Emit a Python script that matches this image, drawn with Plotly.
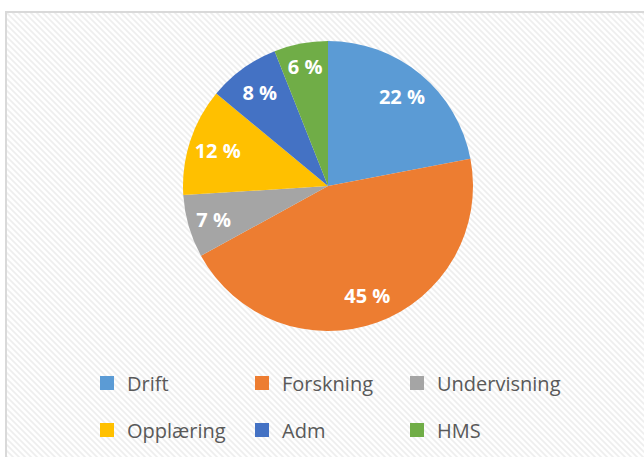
"""
Pie chart: fordeling av tid (Drift, Forskning, Undervisning, ...).
"""
import base64
import plotly.graph_objects as go

# data
labels = ['Drift', 'Forskning', 'Undervisning', 'Opplæring', 'Adm', 'HMS']
values = [22, 45, 7, 12, 8, 6]
colors = ['#5B9BD5', '#ED7D31', '#A5A5A5', '#FFC000', '#4472C4', '#70AD47']

W, H = 644, 457

# striped chart-area background with light frame (Excel style)
svg = f'''<svg xmlns="http://www.w3.org/2000/svg" width="{W}" height="{H}" viewBox="0 0 {W} {H}" preserveAspectRatio="none">
<defs><pattern id="p" width="6" height="6" patternUnits="userSpaceOnUse">
<rect width="6" height="6" fill="#ffffff"/>
<path d="M-1,-1 L7,7 M-4,2 L2,8 M4,-2 L8,2" stroke="#eeeeee" stroke-width="1.6"/>
</pattern></defs>
<rect x="6" y="12" width="{W}" height="{H}" fill="url(#p)" stroke="#d9d9d9" stroke-width="2"/>
</svg>'''
bg_src = 'data:image/svg+xml;base64,' + base64.b64encode(svg.encode()).decode()

pie_domain = dict(x=[(328 - 145) / W, (328 + 145) / W], y=[1 - 331 / H, 1 - 41 / H])

fig = go.Figure()

# the slices
fig.add_trace(go.Pie(
    labels=labels,
    values=values,
    sort=False,
    direction='clockwise',
    rotation=0,
    marker=dict(colors=colors, line=dict(width=0)),
    textinfo='none',
    domain=pie_domain,
    showlegend=False,
    hoverinfo='label+percent',
))

# same values again as a transparent ring, so the labels sit out towards the rim
fig.add_trace(go.Pie(
    labels=labels,
    values=values,
    sort=False,
    direction='clockwise',
    rotation=0,
    hole=0.6,
    marker=dict(colors=['rgba(0,0,0,0)'] * len(labels), line=dict(width=0)),
    texttemplate='%{value} %',
    textposition='inside',
    insidetextorientation='horizontal',
    textfont=dict(family='Open Sans', size=20, color='white', weight='bold'),
    domain=pie_domain,
    showlegend=False,
    hoverinfo='skip',
))

# legend: one small legend per entry, laid out 3 x 2 like the original
col_x = [87, 242, 397]
row_y = [383, 430]
legend_layout = {}
for i, (name, color) in enumerate(zip(labels, colors)):
    key = 'legend' if i == 0 else f'legend{i + 1}'
    fig.add_trace(go.Scatter(x=[None], y=[None], mode='markers', name=name,
                             marker=dict(symbol='square', size=14, color=color),
                             legend=key))
    legend_layout[key] = dict(
        x=col_x[i % 3] / W, y=1 - row_y[i // 3] / H,
        xanchor='left', yanchor='middle',
        font=dict(family='Open Sans', size=20, color='#595959'),
        bgcolor='rgba(0,0,0,0)',
        itemclick=False, itemdoubleclick=False,
    )

fig.update_layout(
    width=W, height=H,
    margin=dict(l=0, r=0, t=0, b=0, autoexpand=False),
    paper_bgcolor='white',
    plot_bgcolor='rgba(0,0,0,0)',
    xaxis=dict(visible=False),
    yaxis=dict(visible=False),
    images=[dict(source=bg_src, xref='paper', yref='paper', x=0, y=1,
                 sizex=1, sizey=1, sizing='stretch', layer='below')],
    **legend_layout,
)

fig.write_html("out.html", config={'displayModeBar': False},
               post_script="document.body.style.margin = '0';")
